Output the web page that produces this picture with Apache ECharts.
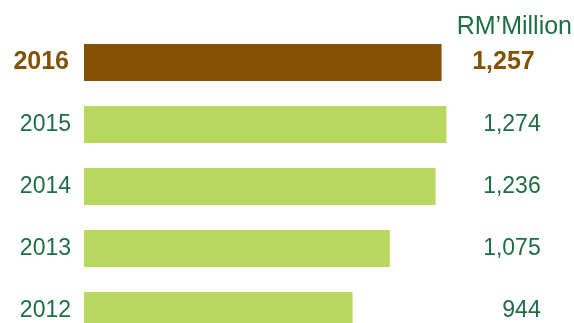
<!DOCTYPE html>
<html>
<head>
<meta charset="utf-8">
<script src="https://cdn.jsdelivr.net/npm/echarts@6/dist/echarts.min.js"></script>
<style>html,body{margin:0;padding:0;background:#fff;}#c{width:574px;height:323px;}</style>
</head>
<body>
<div id="c"></div>
<script>
var years = ['2016', '2015', '2014', '2013', '2012'];
var values = [1257, 1274, 1236, 1075, 944];
var valueLabels = ['1,257', '1,274', '1,236', '1,075', '944'];
var unitLabel = 'RM\u2019Million';

var GREEN_TEXT = '#1e6e45';
var BROWN = '#845206';
var BAR_GREEN = '#b8d75f';
var FONT = '"Liberation Sans", Arial, sans-serif';

function fmtLeft(v, i) { return i === 0 ? '{b|' + v + '}' : '{n|' + v + '}'; }
function fmtRight(v, i) { return i === 0 ? '{b|' + v + '}' : '{n|' + v + '}'; }
var richLeft = {
  b: { fontFamily: FONT, fontSize: 25, fontWeight: 'bold', color: BROWN, padding: [0, 2, 0, 0] },
  n: { fontFamily: FONT, fontSize: 23, color: GREEN_TEXT }
};
var richRight = {
  b: { fontFamily: FONT, fontSize: 25, fontWeight: 'bold', color: BROWN, padding: [0, 6, 0, 0] },
  n: { fontFamily: FONT, fontSize: 23, color: GREEN_TEXT }
};

var chart = echarts.init(document.getElementById('c'), null, { renderer: 'canvas' });
chart.setOption({
  animation: false,
  backgroundColor: '#ffffff',
  graphic: [{
    type: 'text', right: 2, top: 15,
    style: { text: unitLabel, fontFamily: FONT, fontSize: 25, fill: GREEN_TEXT }
  }],
  grid: { left: 84, top: 31.5, width: 426.7, height: 310, outerBoundsMode: 'none', containLabel: false },
  xAxis: { type: 'value', min: 0, max: 1500, show: false },
  yAxis: [{
    type: 'category', data: years, inverse: true,
    axisLine: { show: false }, axisTick: { show: false },
    axisLabel: { margin: 13, align: 'right', formatter: fmtLeft, rich: richLeft }
  }, {
    type: 'category', data: valueLabels, inverse: true, position: 'right',
    axisLine: { show: false }, axisTick: { show: false },
    axisLabel: { margin: 30, align: 'right', formatter: fmtRight, rich: richRight }
  }],
  series: [{
    type: 'bar', yAxisIndex: 0, barWidth: 37,
    data: values.map(function (v, i) {
      return { value: v, itemStyle: { color: i === 0 ? BROWN : BAR_GREEN } };
    })
  }]
});
</script>
</body>
</html>
